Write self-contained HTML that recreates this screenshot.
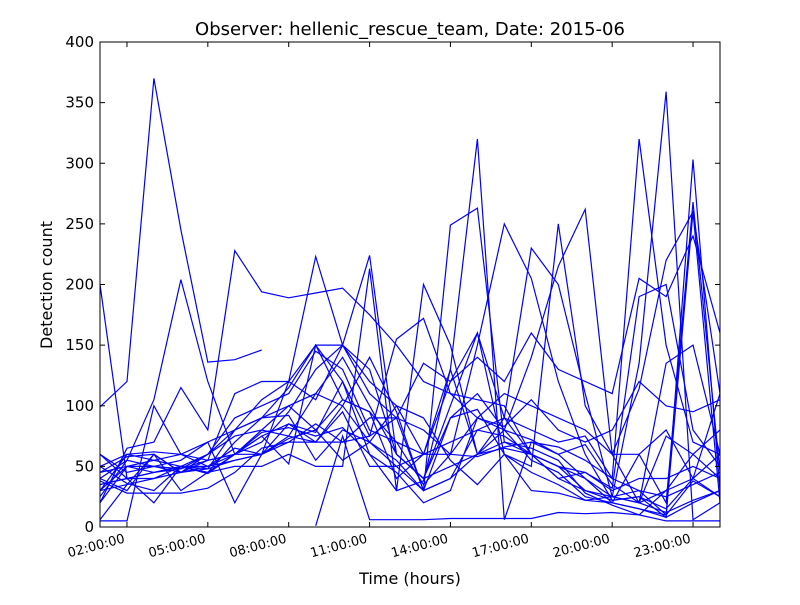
<!DOCTYPE html>
<html><head><meta charset="utf-8"><style>
body{margin:0;background:#fff;font-family:"Liberation Sans","DejaVu Sans",sans-serif}
svg text{font-family:"DejaVu Sans","Liberation Sans",sans-serif}
</style></head><body>
<svg id="c" width="800" height="600"></svg>
<script>
const hours=[1,2,3,4,5,6,7,8,9,10,11,12,13,14,15,16,17,18,19,20,21,22,23,24];
const xTickHours=[2,5,8,11,14,17,20,23];
const xTickLabels=["02:00:00","05:00:00","08:00:00","11:00:00","14:00:00","17:00:00","20:00:00","23:00:00"];
const yTicks=[0,50,100,150,200,250,300,350,400];
const s01=[99,120,370,245,136,138,146,null,null,null,null,null,null,null,null,null,null,null,null,null,null,null,null,null];
const s02=[200,40,45,50,44,60,75,52,150,120,60,30,38,130,60,70,65,55,28,18,10,30,40,60];
const s03=[30,35,40,50,45,70,90,100,80,105,95,40,60,130,320,6,70,60,40,20,15,8,20,30];
const s04=[40,30,60,45,60,80,105,120,105,150,130,60,40,100,160,90,60,50,30,25,135,359,6,20];
const s05=[25,55,50,48,60,75,80,75,110,100,70,50,30,40,80,75,60,40,30,22,25,8,303,30];
const s06=[60,45,50,45,55,60,78,82,75,82,60,45,20,30,90,80,55,45,25,20,60,20,268,45];
const s07=[35,40,45,50,48,55,60,85,70,100,140,95,30,249,263,70,60,50,40,25,30,10,260,20];
const s08=[45,50,55,50,60,90,100,110,145,130,80,70,35,60,150,250,205,120,60,22,25,15,40,110];
const s09=[50,60,62,60,55,60,80,100,110,140,100,60,40,90,110,80,140,215,262,60,60,80,40,25];
const s10=[20,65,70,115,80,228,194,189,193,197,175,150,120,110,105,100,60,40,45,32,190,200,80,50];
const s11=[30,50,45,48,55,110,120,120,223,150,224,60,40,50,60,65,60,50,45,30,40,40,50,40];
const s12=[40,55,105,204,120,60,70,95,130,150,110,90,80,60,58,66,70,66,55,40,30,25,35,45];
const s13=[30,60,55,60,70,80,90,115,150,105,95,70,60,70,80,90,80,70,75,40,320,150,70,60];
const s14=[5,5,100,60,50,60,60,120,150,150,120,100,60,60,90,110,100,90,80,60,20,30,60,80];
const s15=[6,35,60,30,45,60,75,85,78,120,75,90,135,120,140,120,160,130,120,110,205,190,240,160];
const s16=[38,28,28,28,32,45,65,70,70,70,90,90,30,40,60,90,230,200,110,25,20,135,150,60];
const s17=[60,40,20,50,45,50,50,60,50,50,213,30,200,150,60,80,72,60,68,35,20,75,60,40];
const s18=[35,40,40,45,48,80,90,92,55,80,70,100,90,55,35,60,50,250,100,60,114,220,260,110];
const s19=[null,null,null,null,null,null,null,null,1,75,6,6,6,7,7,7,7,12,11,12,10,5,5,5];
const s20=[20,50,50,55,70,20,60,70,85,70,75,155,172,110,90,83,105,80,70,80,120,100,95,105];
const s21=[45,58,60,45,50,65,60,73,80,55,70,55,30,90,97,60,30,28,22,20,15,10,38,25];
const s22=[50,36,30,50,50,55,60,75,70,95,50,50,60,120,160,60,45,35,22,25,20,12,22,30];
const series=[s01,s02,s03,s04,s05,s06,s07,s08,s09,s10,s11,s12,s13,s14,s15,s16,s17,s18,s19,s20,s21,s22];

const NS="http://www.w3.org/2000/svg";
const svg=document.getElementById('c');
const L=100,R=720,T=42,B=527;
const xs=h=>L+(h-1)*(R-L)/23;
const ys=v=>B-v*(B-T)/400;
function mk(t,a,p){const e=document.createElementNS(NS,t);for(const k in a)e.setAttribute(k,a[k]);(p||svg).appendChild(e);return e;}
const bg=mk('rect',{x:0,y:0,width:800,height:600,fill:'#fff'});


const g=mk('g',{});


const clip=mk('clipPath',{id:'cp'});mk('rect',{x:L,y:T,width:R-L,height:B-T},clip);
g.setAttribute('clip-path','url(#cp)');
series.forEach((s,i)=>{
  let d='',pen=false;
  s.forEach((v,j)=>{if(v==null){pen=false;return;}d+=(pen?'L':'M')+xs(hours[j]).toFixed(1)+','+ys(v).toFixed(1);pen=true;});
  const p=mk('path',{d:d,fill:'none',stroke:'#0000ff','stroke-width':1.2},g);
  
  
});
const frame=mk('rect',{x:L,y:T,width:R-L,height:B-T,fill:'none',stroke:'#000','stroke-width':1});


yTicks.forEach(v=>{
  const y=ys(v);
  mk('line',{x1:L,x2:L+5,y1:y,y2:y,stroke:'#000'});
  mk('line',{x1:R,x2:R-5,y1:y,y2:y,stroke:'#000'});
  const t=mk('text',{x:L-6,y:y+5,'text-anchor':'end','font-size':15});t.textContent=v;
  
  
});
xTickHours.forEach((h,i)=>{
  const x=xs(h);
  mk('line',{x1:x,x2:x,y1:B,y2:B-5,stroke:'#000'});
  mk('line',{x1:x,x2:x,y1:T,y2:T+5,stroke:'#000'});
  const t=mk('text',{x:x-31,y:550,'text-anchor':'middle','font-size':13,transform:`rotate(-15 ${x-31} 545)`});
  t.textContent=xTickLabels[i];
  
  
});
const title=mk('text',{x:410,y:35,'text-anchor':'middle','font-size':18});
title.textContent='Observer: hellenic_rescue_team, Date: 2015-06';


const xt=mk('text',{x:410,y:584,'text-anchor':'middle','font-size':16});
xt.textContent='Time (hours)';


const yt=mk('text',{x:52,y:285,'text-anchor':'middle','font-size':16,transform:'rotate(-90 52 285)'});
yt.textContent='Detection count';


</script>
</body></html>
